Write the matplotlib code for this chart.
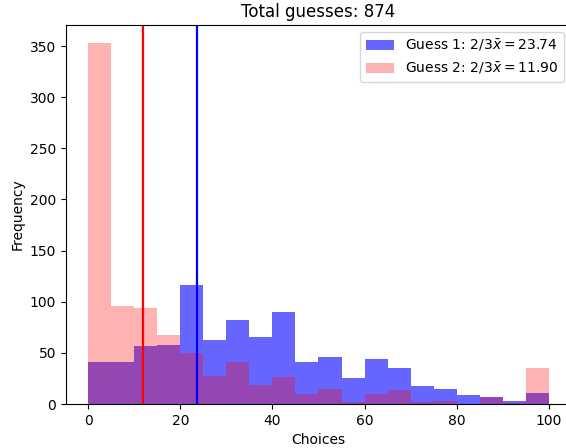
import numpy as np
import matplotlib
matplotlib.use('Agg')
import matplotlib.pyplot as plt

# ============= Data (bins of width 5)
binEdges = np.arange(0, 100, 5)
guess1Counts = [41, 41, 57, 58, 116, 63, 82, 66, 90, 41,
                46, 25, 44, 35, 18, 15, 9, 7, 3, 11]
guess2Counts = [353, 96, 94, 67, 50, 27, 41, 19, 26, 10,
                15, 2, 10, 14, 2, 3, 0, 7, 1, 35]
guess1Target = 23.74
guess2Target = 11.90
totalGuesses = 874

# ============= Plot
fig = plt.figure(figsize=(5.66, 4.48), dpi=100)
ax = fig.add_subplot(111)
# right edge of the axes falls just outside the saved image, like the reference
fig.subplots_adjust(left=0.1166, right=1.008, bottom=0.0982, top=0.944)

ax.bar(binEdges, guess1Counts, width=5, align='edge', color='blue', alpha=0.6,
       label=r'Guess 1: $2/3\bar{x} = %.2f$' % guess1Target)
ax.bar(binEdges, guess2Counts, width=5, align='edge', color='red', alpha=0.3,
       label=r'Guess 2: $2/3\bar{x} = %.2f$' % guess2Target)
ax.axvline(guess1Target, color='blue', linewidth=1.6)
ax.axvline(guess2Target, color='red', linewidth=1.6)

ax.set_xlim(-4.8, 104.7)
ax.set_ylim(0, 370.5)
ax.set_title('Total guesses: %d' % totalGuesses)
ax.set_xlabel('Choices')
ax.set_ylabel('Frequency')
ax.legend(loc='upper right')

fig.savefig('out.png', dpi=100)
